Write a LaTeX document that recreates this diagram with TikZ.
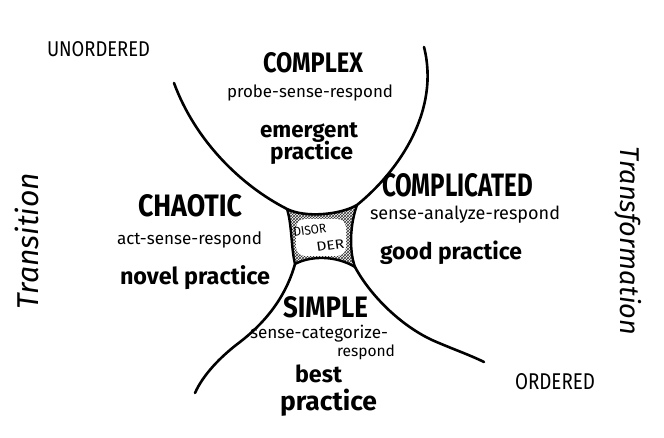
\documentclass[tikz,border=0pt]{standalone}
\usepackage{fontspec}
\usepackage{graphicx}
\usetikzlibrary{patterns}
\setmainfont{Fira Sans}
\newfontfamily\handfont{Fira Sans}
\newcommand{\fitw}[2]{\resizebox{#1pt}{!}{#2}}
\newcommand{\fitwh}[3]{\resizebox{#1pt}{#2pt}{#3}}
\begin{document}
\begin{tikzpicture}[x=1pt,y=1pt,
  lbl/.style={anchor=base west, inner sep=0pt, outer sep=0pt, font=\handfont},
  curve/.style={line width=2.6pt, line cap=round, line join=round},
  edge/.style={line width=2.4pt, line cap=round, line join=round}]
\useasboundingbox (0,0) rectangle (664,-438);
\fill[white] (0,0) rectangle (664,-438);

% disorder corners
\coordinate (TL) at (287,-209);
\coordinate (TR) at (357,-205);
\coordinate (BR) at (355,-267);
\coordinate (BL) at (295,-264);
\coordinate (ulEnd) at (174,-83);
\coordinate (urEnd) at (424,-47);
\coordinate (llMid) at (240,-342);
\coordinate (llEnd) at (195,-393);
\coordinate (lrMid) at (432,-340);
\coordinate (lrEnd) at (484,-362);

% disorder hatching
\fill[pattern=crosshatch, pattern color=black!80]
  (TL) .. controls (305,-218) and (340,-215) .. (TR)
       .. controls (350,-225) and (349,-250) .. (BR)
       .. controls (335,-255) and (310,-256) .. (BL)
       .. controls (291,-248) and (292,-225) .. (TL) -- cycle;
\fill[white, rounded corners=9pt] (296,-219) rectangle (346,-256);

% disorder edges
\draw[edge] (TL) .. controls (292,-225) and (291,-248) .. (BL);
\draw[edge] (BL) .. controls (310,-256) and (335,-255) .. (BR);
\draw[edge] (TR) .. controls (350,-225) and (349,-250) .. (BR);

% outer curves
\draw[curve] (ulEnd) .. controls (195,-140) and (240,-185) .. (TL)
   .. controls (305,-218) and (340,-215) .. (TR)
   .. controls (400,-170) and (440,-110) .. (urEnd);
\draw[curve] (BL) .. controls (285,-300) and (262,-325) .. (llMid)
   .. controls (220,-357) and (203,-375) .. (llEnd);
\draw[curve] (BR) .. controls (370,-295) and (400,-325) .. (lrMid)
   .. controls (450,-348) and (470,-355) .. (lrEnd);

% texts
\node[lbl] (unordered) at (47,-57) {\fitwh{103}{15}{UNORDERED}};
\node[lbl] (ordered) at (515,-389) {\fitwh{80}{16}{ORDERED}};

\node[lbl] (complex) at (263,-73) {\fitwh{100}{20}{\bfseries COMPLEX}};
\node[lbl] (complexsub) at (227,-98) {\fitw{166}{probe-sense-respond}};
\node[lbl] (emergent) at (260,-138) {\fitw{98}{\bfseries emergent}};
\node[lbl] (emergentpr) at (270,-160) {\fitw{83}{\bfseries practice}};

\node[lbl] (complicated) at (382,-197) {\fitwh{151}{23}{\bfseries COMPLICATED}};
\node[lbl] (complicatedsub) at (370,-220) {\fitw{190}{sense-analyze-respond}};
\node[lbl] (good) at (380,-260) {\fitw{142}{\bfseries good practice}};

\node[lbl] (chaotic) at (138,-217) {\fitwh{104}{22}{\bfseries CHAOTIC}};
\node[lbl] (chaoticsub) at (117,-245) {\fitw{145}{act-sense-respond}};
\node[lbl] (novel) at (120,-285) {\fitw{150}{\bfseries novel practice}};

\node[lbl] (simple) at (283,-318) {\fitwh{85}{21}{\bfseries SIMPLE}};
\node[lbl] (simplesub) at (250,-338) {\fitw{138}{sense-categorize-}};
\node[lbl] (simplesubb) at (337,-356) {\fitw{58}{respond}};
\node[lbl] (best) at (295,-382) {\fitw{47}{\bfseries best}};
\node[lbl] (bestpr) at (280,-410) {\fitw{97}{\bfseries practice}};

\node[lbl, rotate=90] (transition) at (38,-309) {\fitw{136}{\itshape Transition}};
\node[lbl, rotate=-90] (transformation) at (620,-147) {\fitw{188}{\itshape Transformation}};

\node[lbl, rotate=8] (disor) at (294,-237) {\fitwh{33}{9}{DISOR}};
\node[lbl, rotate=8] (der) at (317,-252) {\fitwh{28}{9}{DER}};
\end{tikzpicture}
\end{document}
